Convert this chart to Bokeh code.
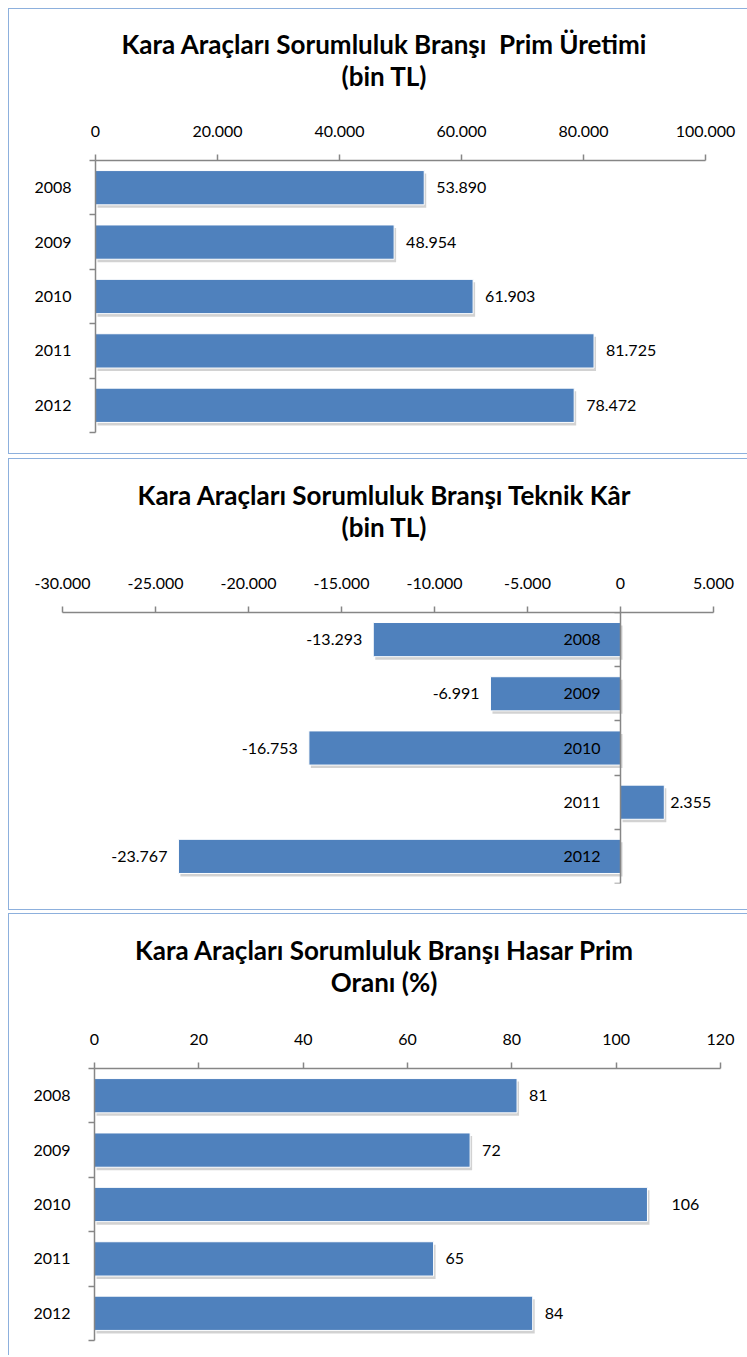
from bokeh.plotting import figure
from bokeh.layouts import column
from bokeh.models import Range1d, FixedTicker, ColumnDataSource, Div
from bokeh.core.properties import value
from bokeh.embed import file_html
from bokeh.resources import INLINE

# ---------------- data ----------------
years = ["2008", "2009", "2010", "2011", "2012"]
prim_values = [53890, 48954, 61903, 81725, 78472]
kar_values = [-13293, -6991, -16753, 2355, -23767]
hasar_values = [81, 72, 106, 65, 84]
prim_ticks = [0, 20000, 40000, 60000, 80000, 100000]
kar_ticks = [-30000, -25000, -20000, -15000, -10000, -5000, 0, 5000]
hasar_ticks = [0, 20, 40, 60, 80, 100, 120]
prim_title = ["Kara Araçları Sorumluluk Branşı&nbsp; Prim Üretimi", "(bin TL)"]
kar_title = ["Kara Araçları Sorumluluk Branşı Teknik Kâr", "(bin TL)"]
hasar_title = ["Kara Araçları Sorumluluk Branşı Hasar Prim", "Oranı (%)"]

# ---------------- style ----------------
FONT = "Lato"
BAR = "#4F81BD"
AXIS = "#868686"
BORDER = "#8DB0DD"
W = 738
TITLE_H = 100
FS = "16px"
# per-label horizontal gap (px) between bar end and its value label
prim_gaps = [12, 12, 12, 12, 12]
kar_gaps = [11, 11, 11, 6, 11]
hasar_gaps = [12, 12, 24, 12, 12]


def fmt(v):
    s = f"{abs(v):,}".replace(",", ".")
    return "-" + s if v < 0 else s


def panel(values, ticks, title, gaps, ml, mr, mt, mb, h, pad_top, margin, at_zero=False,
          bottom_border=True):
    fw = W - ml - mr
    fh = h - mt - mb
    x0, x1 = ticks[0], ticks[-1]
    upx = (x1 - x0) / fw
    n = len(values)
    upy = n / fh
    pos = list(range(1, n + 1))
    p = figure(width=W, height=h, x_range=Range1d(x0, x1), y_range=Range1d(n + 0.5, 0.5),
               x_axis_location="above", output_backend="svg", toolbar_location=None,
               min_border_left=ml, min_border_right=mr, min_border_top=mt, min_border_bottom=mb,
               margin=0)
    p.xgrid.visible = False
    p.ygrid.visible = False
    p.outline_line_color = None

    lefts = [min(0, v) for v in values]
    rights = [max(0, v) for v in values]
    shadow = ColumnDataSource(dict(y=[q + 3 * upy for q in pos],
                                   left=[l + 2 * upx for l in lefts],
                                   right=[r + 2 * upx for r in rights]))
    p.hbar(y="y", left="left", right="right", height=0.63, source=shadow,
           fill_color="#7f7f7f", fill_alpha=0.35, line_color=None)
    src = ColumnDataSource(dict(y=pos, left=lefts, right=rights))
    p.hbar(y="y", left="left", right="right", height=0.63, source=src,
           fill_color=BAR, line_color="white", line_width=1)

    for v, q, g in zip(values, pos, gaps):
        neg = v < 0
        p.text(x=[v], y=[q], text=[fmt(v)],
               x_offset=-g if neg else g, text_align="right" if neg else "left",
               text_baseline="middle",
               text_font=value(FONT), text_font_size=FS, text_color="black")

    xa = p.xaxis[0]
    xa.ticker = FixedTicker(ticks=ticks)
    xa.major_label_overrides = {t: fmt(t) for t in ticks}
    xa.major_tick_out = 6
    xa.major_tick_in = 0
    xa.minor_tick_line_color = None
    xa.axis_line_color = AXIS
    xa.axis_line_width = 1.5
    xa.major_tick_line_color = AXIS
    xa.major_tick_line_width = 1.5
    xa.major_label_standoff = 18
    xa.major_label_text_font = FONT
    xa.major_label_text_font_size = FS
    xa.major_label_text_color = "black"

    ya = p.yaxis[0]
    ya.ticker = FixedTicker(ticks=pos, minor_ticks=[k + 0.5 for k in range(0, n + 1)])
    ya.major_label_overrides = {q: y for q, y in zip(pos, years)}
    ya.major_tick_out = 0
    ya.major_tick_in = 0
    ya.minor_tick_out = 6
    ya.minor_tick_in = 0
    ya.minor_tick_line_color = AXIS
    ya.minor_tick_line_width = 1.5
    ya.axis_line_color = AXIS
    ya.axis_line_width = 1.5
    ya.major_label_standoff = 18
    ya.major_label_text_font = FONT
    ya.major_label_text_font_size = FS
    ya.major_label_text_color = "black"
    if at_zero:
        ya.fixed_location = 0
        ya.major_label_standoff = 14

    html = ("<div style=\"width:%dpx;box-sizing:border-box;padding-left:12px;padding-top:%dpx;"
            "text-align:center;font-family:'%s';font-weight:bold;font-size:26px;"
            "line-height:32px;color:black;white-space:nowrap;\">%s<br>%s</div>"
            % (W, pad_top, FONT, title[0], title[1]))
    div = Div(text=html, width=W, height=TITLE_H, margin=0)

    st = {"border-left": f"1px solid {BORDER}", "border-top": f"1px solid {BORDER}"}
    if bottom_border:
        st["border-bottom"] = f"1px solid {BORDER}"
    box = column(div, p, spacing=0, margin=margin, styles=st)
    return box


b1 = panel(prim_values, prim_ticks, prim_title, prim_gaps, ml=86, mr=42, mt=51, mb=21, h=344,
           pad_top=19, margin=(8, 0, 0, 8))
b2 = panel(kar_values, kar_ticks, kar_title, kar_gaps, ml=53, mr=34, mt=53, mb=26, h=350,
           pad_top=20, margin=(4, 0, 0, 8), at_zero=True)
b3 = panel(hasar_values, hasar_ticks, hasar_title, hasar_gaps, ml=85, mr=27, mt=54, mb=15, h=341,
           pad_top=20, margin=(3, 0, 0, 8), bottom_border=False)

open("out.html", "w").write(file_html([b1, b2, b3], INLINE))
